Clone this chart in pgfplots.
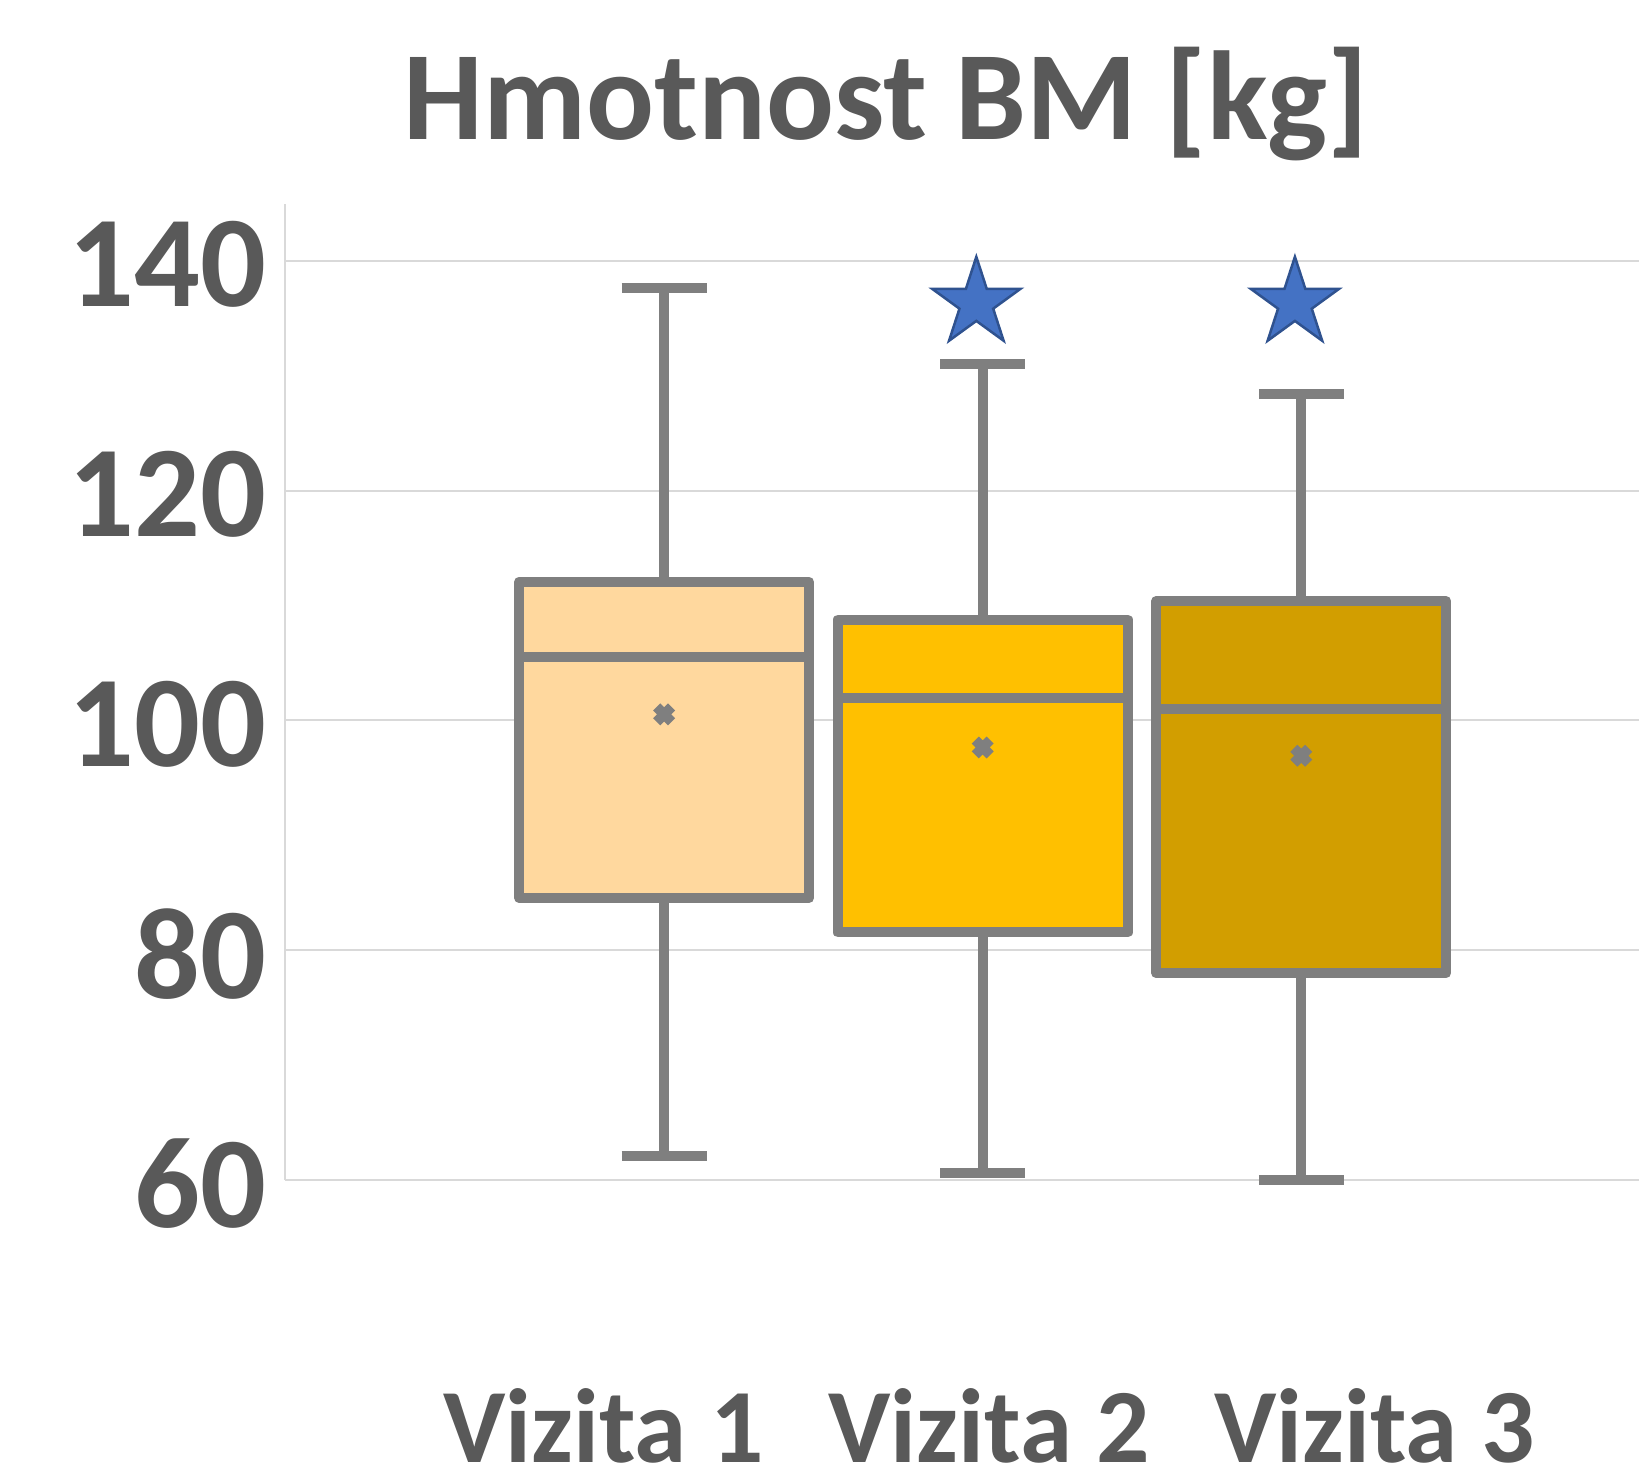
\documentclass[border=0pt]{standalone}
\usepackage{pgfplots}
\pgfplotsset{compat=1.18}
\usepgfplotslibrary{statistics}
\usepackage{fontspec}
\setmainfont{Carlito}

\definecolor{txtgray}{HTML}{595959}
\definecolor{edgegray}{HTML}{7F7F7F}
\definecolor{gridgray}{HTML}{D9D9D9}
\definecolor{vizA}{HTML}{FFD89E}
\definecolor{vizB}{HTML}{FFC000}
\definecolor{vizC}{HTML}{D29E00}
\definecolor{starblue}{HTML}{4472C4}
\definecolor{stardark}{HTML}{2F528F}

% filled five-pointed star
\pgfdeclareplotmark{fstar}{%
  \pgfpathmoveto{\pgfpointpolar{90}{\pgfplotmarksize}}%
  \pgfpathlineto{\pgfpointpolar{126}{0.382\pgfplotmarksize}}%
  \pgfpathlineto{\pgfpointpolar{162}{\pgfplotmarksize}}%
  \pgfpathlineto{\pgfpointpolar{198}{0.382\pgfplotmarksize}}%
  \pgfpathlineto{\pgfpointpolar{234}{\pgfplotmarksize}}%
  \pgfpathlineto{\pgfpointpolar{270}{0.382\pgfplotmarksize}}%
  \pgfpathlineto{\pgfpointpolar{306}{\pgfplotmarksize}}%
  \pgfpathlineto{\pgfpointpolar{342}{0.382\pgfplotmarksize}}%
  \pgfpathlineto{\pgfpointpolar{18}{\pgfplotmarksize}}%
  \pgfpathlineto{\pgfpointpolar{54}{0.382\pgfplotmarksize}}%
  \pgfpathclose
  \pgfusepathqfillstroke}

\begin{document}
\begin{tikzpicture}
\useasboundingbox (0,0) rectangle (163.9mm,147.4mm);
\begin{axis}[
    at={(28.5mm,29.4mm)}, anchor=south west,
    scale only axis, width=135.4mm, height=97.6mm,
    xmin=-0.19, xmax=4.06, ymin=60, ymax=144.93,
    clip=false,
    axis x line*=bottom, axis y line*=left,
    axis line style={draw=gridgray, line width=0.2mm},
    ymajorgrids, grid style={draw=gridgray, line width=0.2mm},
    major tick length=0pt,
    ytick={60,80,100,120,140},
    xtick={0.81,2.02,3.23},
    xticklabels={Vizita 1, Vizita 2, Vizita 3},
    /pgf/number format/assume math mode=true,
    yticklabel style={font=\fontsize{37}{40}\selectfont\bfseries, text=txtgray,
        inner sep=0pt, anchor=east, xshift=-1.8mm, yshift=-0.4mm},
    xticklabel style={font=\fontsize{30}{33}\selectfont\bfseries, text=txtgray,
        inner sep=0pt, anchor=base, yshift=-28.2mm},
    title={Hmotnost BM [kg]},
    title style={font=\fontsize{36}{40}\selectfont\bfseries, text=txtgray,
        at={(0.444,1)}, anchor=base, yshift=4.3mm},
    boxplot/draw direction=y,
    boxplot/box extend=0.91,
    boxplot/whisker extend=0.267,
    boxplot/every average/.style={/tikz/mark=x, /tikz/mark size=1.05mm,
        /tikz/mark options={draw=edgegray, line width=0.8mm, line cap=butt}},
]
\addplot[draw=edgegray, fill=vizA, line width=1mm, line join=round,
    boxplot prepared={lower whisker=62.07, lower quartile=84.54, median=105.53,
    upper quartile=112.06, upper whisker=137.58, average=100.52, draw position=1}]
    coordinates {};
\addplot[draw=edgegray, fill=vizB, line width=1mm, line join=round,
    boxplot prepared={lower whisker=60.62, lower quartile=81.54, median=101.94,
    upper quartile=108.77, upper whisker=131.03, average=97.64, draw position=2}]
    coordinates {};
\addplot[draw=edgegray, fill=vizC, line width=1mm, line join=round,
    boxplot prepared={lower whisker=60.0, lower quartile=78.0, median=101.01,
    upper quartile=110.38, upper whisker=128.39, average=96.92, draw position=3}]
    coordinates {};
\addplot[only marks, mark=fstar, mark size=4.64mm, fill=starblue, draw=stardark,
    line width=0.25mm] coordinates {(1.98,136.3) (2.98,136.3)};
\end{axis}
\end{tikzpicture}
\end{document}
